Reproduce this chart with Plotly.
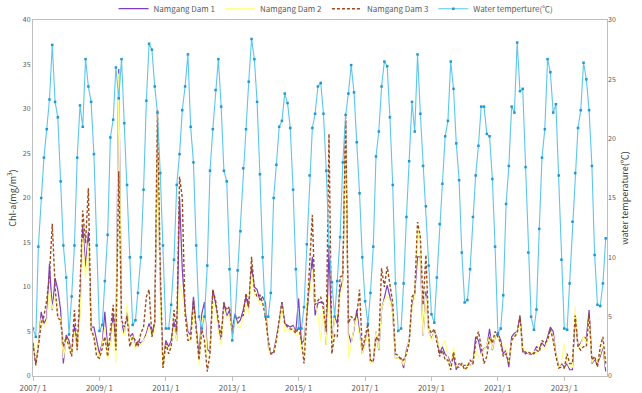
import pandas as pd
import plotly.graph_objects as go

start_month = "2007-01-01"

water_temp = [
    4.0,3.3,10.9,15.0,18.4,20.8,23.3,27.9,23.1,21.8,16.4,11.0,
    8.3,3.5,6.7,11.0,18.4,22.8,21.0,26.7,24.4,23.1,18.7,11.0,
    3.8,4.3,8.0,11.9,20.1,21.6,26.0,23.4,26.7,21.3,16.1,10.0,
    4.3,4.7,7.0,10.0,15.7,23.2,28.0,27.5,24.4,22.2,17.1,11.0,
    4.0,4.0,6.0,9.8,16.1,18.7,22.4,24.4,27.1,21.0,18.0,11.0,
    5.0,4.0,5.0,9.3,17.3,20.8,24.1,26.7,22.7,17.3,16.4,9.0,
    3.0,5.0,8.9,12.2,17.5,20.8,24.8,28.4,26.7,23.1,17.0,10.0,
    5.0,5.0,7.0,15.0,17.8,21.0,21.5,23.8,23.0,20.9,15.7,9.0,
    4.0,4.0,5.8,11.1,16.9,20.9,22.1,24.4,24.7,22.1,17.3,10.9,
    7.9,5.0,8.0,11.7,18.0,22.0,23.8,26.2,23.9,19.7,15.4,10.0,
    6.3,4.4,7.0,10.9,18.5,20.6,24.4,26.5,26.1,21.8,16.1,7.8,
    3.8,4.0,7.8,13.4,18.1,23.1,20.6,27.1,22.1,17.7,14.3,9.3,
    5.2,4.5,8.3,12.8,16.2,20.2,21.5,26.5,24.2,19.6,16.5,10.4,
    6.2,6.4,9.0,13.4,16.9,19.4,22.7,22.7,20.4,20.2,16.6,10.9,
    3.6,4.0,6.8,14.5,17.7,22.7,22.2,28.1,24.0,24.2,17.6,10.4,
    5.0,3.9,5.6,12.4,18.4,20.8,26.7,25.6,22.2,22.9,16.9,9.8,
    4.0,3.9,7.8,13.0,17.1,20.9,22.4,26.4,25.0,22.4,17.7,10.2,
    6.0,5.9,7.8,11.6,
]

dam1 = [
    3.9,1.4,3.5,7.2,5.9,6.5,12.6,7.4,11.0,9.7,7.4,1.4,
    4.6,4.0,2.5,5.7,3.1,7.4,16.9,12.3,16.2,5.5,5.5,4.0,
    2.5,3.7,7.2,3.3,3.7,7.0,3.3,34.5,5.9,4.8,7.2,4.4,
    4.8,3.3,3.9,3.7,4.0,4.8,5.9,4.8,6.0,25.5,10.0,1.0,
    4.0,3.3,4.0,6.1,4.0,20.1,12.0,7.4,5.0,4.6,8.9,5.5,
    2.2,7.0,8.3,3.0,2.7,9.7,8.2,5.5,3.7,8.3,6.7,7.4,
    5.2,7.0,5.9,6.3,7.4,8.9,7.6,12.3,10.0,9.7,8.5,8.9,
    8.2,3.3,2.5,2.7,4.4,5.9,8.3,5.9,5.7,5.5,5.7,5.0,
    8.7,3.7,4.0,6.8,10.0,13.4,6.8,8.2,8.3,8.2,3.5,14.5,
    3.7,6.7,5.9,9.7,10.8,28.7,4.8,3.7,5.2,7.4,5.2,2.5,
    3.7,5.2,1.6,1.6,5.0,2.9,7.4,8.9,10.2,8.9,7.0,2.0,
    2.0,2.0,0.9,2.9,4.0,7.8,9.3,13.4,13.4,4.5,9.5,5.0,
    4.2,5.0,4.4,2.5,3.3,2.4,2.2,1.4,2.2,0.7,1.4,1.2,
    1.2,1.2,1.2,1.4,4.4,4.0,2.5,3.1,3.3,5.3,2.9,4.4,
    4.8,4.0,2.5,2.9,1.0,4.4,4.8,5.0,6.7,2.7,2.7,2.5,
    2.4,2.7,3.3,3.1,3.7,3.3,4.4,5.5,5.0,2.5,1.0,1.4,
    1.0,1.4,0.7,0.7,7.0,3.3,3.7,4.4,4.2,7.4,1.4,1.8,
    1.4,2.2,3.3,0.5,
]

dam2 = [
    4.5,1.8,3.5,6.5,5.5,6.0,9.7,7.5,9.0,7.0,6.5,2.0,
    4.0,3.5,2.5,5.0,3.0,6.5,15.5,11.0,15.0,5.0,4.5,3.0,
    2.0,3.5,5.5,1.8,3.5,6.0,1.5,34.0,5.0,4.5,8.2,4.0,
    4.5,3.0,3.5,3.5,4.0,4.5,5.5,4.5,5.0,27.0,8.0,0.9,
    3.5,3.0,3.5,5.5,4.0,10.4,9.0,6.5,4.5,4.0,7.5,5.0,
    1.2,6.0,7.5,2.0,2.5,8.5,7.5,5.0,3.5,7.5,6.5,7.0,
    4.5,6.5,5.5,5.5,6.5,8.0,7.0,11.5,9.0,9.0,8.0,8.5,
    7.5,3.0,2.5,2.5,4.0,5.5,8.0,5.0,5.3,5.0,5.5,4.5,
    5.0,2.9,2.5,8.5,9.0,12.0,8.0,7.0,3.9,8.0,3.5,9.0,
    3.5,6.5,7.0,9.0,10.0,28.0,2.0,3.5,5.5,6.5,4.5,2.5,
    3.5,5.0,1.5,1.6,5.0,3.0,7.5,8.5,9.0,8.5,7.0,2.0,
    2.0,1.8,1.2,2.8,4.0,7.5,9.0,16.8,14.0,4.5,9.0,5.0,
    4.0,5.0,4.2,3.0,3.5,4.0,2.0,1.0,3.3,1.0,1.2,1.3,
    0.8,1.5,1.0,1.6,3.0,2.0,2.5,3.0,3.5,4.5,3.0,4.5,
    4.5,3.5,3.5,3.0,1.5,4.0,4.5,5.0,6.0,3.0,3.0,2.5,
    2.5,2.8,2.5,3.5,3.5,3.0,4.0,5.0,4.5,2.5,1.0,1.5,
    3.7,1.5,1.0,1.0,7.8,3.0,3.5,4.5,3.5,6.5,1.5,2.0,
    1.5,2.5,3.5,1.0,
]

dam3 = [
    3.7,1.2,3.3,5.9,6.7,8.5,11.3,17.1,10.0,6.5,6.3,3.3,
    4.4,3.1,2.2,7.4,2.9,10.0,18.6,14.9,21.1,5.2,4.4,2.2,
    2.0,3.1,4.4,2.2,4.8,8.0,2.9,23.0,6.3,5.5,6.7,3.3,
    4.4,4.0,3.3,4.8,5.5,8.9,9.7,4.4,6.0,29.9,12.0,0.9,
    3.7,2.5,3.3,7.4,5.0,22.4,20.0,7.0,4.0,4.0,8.5,4.8,
    1.8,5.2,4.0,0.5,2.5,9.7,8.5,6.3,4.4,8.2,7.4,7.8,
    4.8,6.7,6.5,6.7,6.8,9.3,7.8,13.4,9.7,8.9,9.1,8.2,
    6.7,4.0,2.5,2.5,4.0,6.3,8.3,5.9,5.5,5.3,5.2,4.8,
    5.5,4.0,1.4,6.7,12.0,18.1,8.0,8.5,8.9,7.5,5.0,27.2,
    2.5,4.6,4.4,11.1,11.3,29.1,5.9,6.7,6.3,6.7,9.7,2.9,
    4.4,5.9,1.8,1.6,4.4,3.9,12.1,10.0,12.3,10.4,8.2,2.5,
    2.3,1.8,1.8,2.5,3.7,8.9,9.3,17.3,15.6,8.0,13.6,5.5,
    4.8,5.3,4.0,2.2,2.9,1.8,1.8,0.7,2.7,1.0,1.0,1.4,
    0.7,1.0,1.8,1.4,3.7,5.0,3.3,1.4,2.2,4.4,3.7,5.0,
    4.4,3.7,2.2,2.5,1.4,4.0,4.4,4.8,6.8,2.9,2.5,2.7,
    2.5,2.5,2.9,2.7,4.0,3.7,4.0,5.3,4.0,2.2,0.9,1.0,
    0.9,2.5,1.4,1.4,6.8,3.3,2.9,3.3,3.3,7.0,1.8,2.2,
    1.0,3.3,4.4,1.4,
]

tick_years = [2007, 2009, 2011, 2013, 2015, 2017, 2019, 2021, 2023]
tick_labels = [f"{y}/ 1" for y in tick_years]
tick_vals = [f"{y}-01-01" for y in tick_years]

dates = pd.date_range(start_month, periods=len(water_temp), freq="MS")

font_family = "Noto Sans CJK KR, Noto Sans, sans-serif"
gray = "#595959"

fig = go.Figure()
fig.add_trace(go.Scatter(x=dates, y=dam1, name="Namgang Dam 1", mode="lines",
                         line=dict(color="#7F3FBF", width=1.2)))
fig.add_trace(go.Scatter(x=dates, y=dam2, name="Namgang Dam 2", mode="lines",
                         line=dict(color="#FFFF8C", width=1.2)))
fig.add_trace(go.Scatter(x=dates, y=dam3, name="Namgang Dam 3", mode="lines",
                         line=dict(color="#9C4A1A", width=1.4, dash="3px,2px")))
fig.add_trace(go.Scatter(x=dates, y=water_temp, name="Water temperture(℃)", mode="lines+markers",
                         line=dict(color="#5CC6EC", width=1.1),
                         marker=dict(color="#1E98D4", size=2.5, symbol="square"),
                         yaxis="y2"))

fig.update_layout(
    width=642, height=393,
    margin=dict(l=33, r=35, t=20, b=17, autoexpand=False),
    paper_bgcolor="white", plot_bgcolor="white",
    font=dict(family=font_family, size=8, color=gray),
    showlegend=True,
    legend=dict(orientation="h", x=0.528, xanchor="center", yref="paper", y=0.991, yanchor="bottom",
                font=dict(size=8, color=gray), itemwidth=30,
                bgcolor="rgba(0,0,0,0)", tracegroupgap=0),
    xaxis=dict(type="date", range=["2007-01-01", "2024-04-15"],
               tickvals=tick_vals, ticktext=tick_labels, tickangle=0,
               showgrid=False, zeroline=False, showline=True, linecolor="#BFBFBF", linewidth=1,
               mirror=True, ticks="outside", ticklen=4, tickcolor="#BFBFBF",
               tickfont=dict(size=8, color=gray)),
    yaxis=dict(range=[0, 40], dtick=5, showgrid=False, zeroline=False,
               showline=True, linecolor="#BFBFBF", linewidth=1, mirror=True, ticks="",
               tickfont=dict(size=7, color=gray),
               title=dict(text="Chl-a(mg/m<sup>3</sup>)", standoff=4,
                          font=dict(size=9, color="#404040"))),
    yaxis2=dict(range=[0, 30], dtick=5, overlaying="y", side="right", showgrid=False,
                zeroline=False, showline=False, ticks="",
                tickfont=dict(size=7, color=gray),
                title=dict(text="water temperature(℃)", standoff=6,
                           font=dict(size=9, color="#404040"))),
)

fig.write_html("out.html")
